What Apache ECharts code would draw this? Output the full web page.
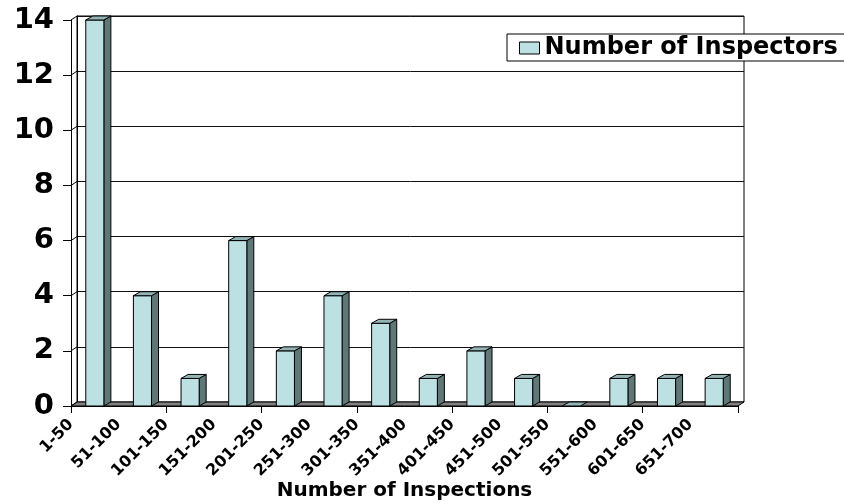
<!DOCTYPE html>
<html>
<head>
<meta charset="utf-8">
<title>Number of Inspectors</title>
<script src="https://cdn.jsdelivr.net/npm/echarts@6/dist/echarts.min.js"></script>
<style>
  html, body { margin: 0; padding: 0; background: #fff; }
  #chart { width: 844px; height: 504px; }
</style>
</head>
<body>
<div id="chart"></div>
<script>
// Inspection-count ranges and how many inspectors fall into each
const categories = ['1-50', '51-100', '101-150', '151-200', '201-250', '251-300', '301-350',
  '351-400', '401-450', '451-500', '501-550', '551-600', '601-650', '651-700'];
const inspectors = [14, 4, 1, 6, 2, 4, 3, 1, 2, 1, 0, 1, 1, 1];
const yTickValues = [0, 2, 4, 6, 8, 10, 12, 14];

const seriesName = 'Number of Inspectors';
const fontFamily = '"DejaVu Sans", "Liberation Sans", Arial, sans-serif';

// pseudo-3D depth of the walls and of the bars
const WALL_DX = 6, WALL_DY = -4;
const BAR_DX = 7, BAR_DY = -4;
const FRONT = '#bde0e3', SIDE = '#5f7777', TOP = '#93b3b5';

const chart = echarts.init(document.getElementById('chart'), null, { renderer: 'canvas' });

function renderFrame(params, api) {
  const cs = params.coordSys;
  const x0 = cs.x, x1 = cs.x + cs.width;
  const children = [];
  const yb = api.coord([0, 0])[1];
  if (params.dataIndex === 0) {
    // floor
    children.push({
      type: 'polygon',
      shape: { points: [[x0, yb], [x1, yb], [x1 + WALL_DX, yb + WALL_DY], [x0 + WALL_DX, yb + WALL_DY]] },
      style: { fill: '#808080', stroke: '#000', lineWidth: 1 }
    });
  }
  // left wall: gridline connectors
  const v = api.value(0);
  const y = api.coord([0, v])[1];
  children.push({
    type: 'line',
    shape: { x1: x0, y1: y, x2: x0 + WALL_DX, y2: y + WALL_DY },
    style: { stroke: '#000', lineWidth: 1 }
  });
  return { type: 'group', children: children };
}

function renderBar(params, api) {
  const i = api.value(0), v = api.value(1);
  const top = api.coord([i, v]);
  const base = api.coord([i, 0]);
  const w = api.size([1, 0])[0] * 0.38;
  const xl = top[0] - w / 2, xr = top[0] + w / 2;
  const yt = top[1], yb = base[1];
  const stroke = { stroke: '#000', lineWidth: 1, lineJoin: 'round' };
  const children = [];
  if (v > 0) {
    children.push({
      type: 'polygon',
      shape: { points: [[xr, yt], [xr + BAR_DX, yt + BAR_DY], [xr + BAR_DX, yb + BAR_DY], [xr, yb]] },
      style: Object.assign({ fill: SIDE }, stroke)
    });
    children.push({
      type: 'rect',
      shape: { x: xl, y: yt, width: w, height: yb - yt },
      style: Object.assign({ fill: FRONT }, stroke)
    });
  }
  children.push({
    type: 'polygon',
    shape: { points: [[xl, yt], [xl + BAR_DX, yt + BAR_DY], [xr + BAR_DX, yt + BAR_DY], [xr, yt]] },
    style: Object.assign({ fill: TOP }, stroke)
  });
  return { type: 'group', children: children };
}

const option = {
  backgroundColor: '#fff',
  animation: false,
  textStyle: { fontFamily: fontFamily, color: '#000' },
  legend: {
    data: [{ name: seriesName, icon: 'rect' }],
    left: 507,
    top: 34,
    orient: 'horizontal',
    padding: [2, 40, 1, 12],
    itemWidth: 20,
    itemHeight: 12,
    backgroundColor: '#fff',
    borderColor: '#000',
    borderWidth: 1,
    itemStyle: { color: FRONT, borderColor: '#000', borderWidth: 1 },
    textStyle: { fontFamily: fontFamily, fontSize: 24, fontWeight: 'bold', color: '#000' }
  },
  grid: [
    // front plane: axes and bars
    { left: 71, right: 106, top: 20, bottom: 98, containLabel: false, outerBoundsMode: 'none' },
    // back wall with gridlines
    { left: 71 + WALL_DX, right: 106 - WALL_DX, top: 20 + WALL_DY, bottom: 98 - WALL_DY,
      containLabel: false, outerBoundsMode: 'none',
      show: true, backgroundColor: '#fff', borderColor: '#000', borderWidth: 1, z: 0 }
  ],
  xAxis: [
    {
      type: 'category', gridIndex: 0, position: 'bottom', data: categories, boundaryGap: true,
      axisLine: { show: true, lineStyle: { color: '#000', width: 1 } },
      axisTick: { show: true, length: 7, lineStyle: { color: '#000' } },
      axisLabel: { show: false },
      name: 'Number of Inspections', nameLocation: 'middle', nameGap: 75,
      nameTextStyle: { fontFamily: fontFamily, fontSize: 20, fontWeight: 'bold', color: '#000' }
    },
    {
      type: 'category', gridIndex: 0, position: 'bottom', data: categories.concat(['']), boundaryGap: false,
      axisLine: { show: false }, axisTick: { show: false },
      axisLabel: { show: true, interval: 0, rotate: 45, margin: 16,
        fontFamily: fontFamily, fontSize: 16, fontWeight: 'bold', color: '#000' }
    },
    {
      type: 'category', gridIndex: 1, data: categories, show: false
    }
  ],
  yAxis: [
    {
      type: 'value', gridIndex: 0, min: 0, max: 14, interval: 2,
      axisLine: { show: true, lineStyle: { color: '#000', width: 1 } },
      axisTick: { show: true, length: 8, lineStyle: { color: '#000' } },
      splitLine: { show: false },
      axisLabel: { margin: 17, fontFamily: fontFamily, fontSize: 29, fontWeight: 'bold', color: '#000' }
    },
    {
      type: 'value', gridIndex: 1, min: 0, max: 14, interval: 2,
      axisLine: { show: true, lineStyle: { color: '#000', width: 1 } },
      axisTick: { show: false }, axisLabel: { show: false },
      splitLine: { show: true, lineStyle: { color: '#111', width: 1 } }
    }
  ],
  series: [
    {
      type: 'custom', name: 'frame', xAxisIndex: 0, yAxisIndex: 0, z: 1,
      silent: true, renderItem: renderFrame, data: yTickValues.map(v => [v])
    },
    {
      type: 'custom', name: seriesName, xAxisIndex: 0, yAxisIndex: 0, z: 3,
      itemStyle: { color: FRONT },
      renderItem: renderBar,
      data: inspectors.map((v, i) => [i, v])
    }
  ]
};

chart.setOption(option);
</script>
</body>
</html>
